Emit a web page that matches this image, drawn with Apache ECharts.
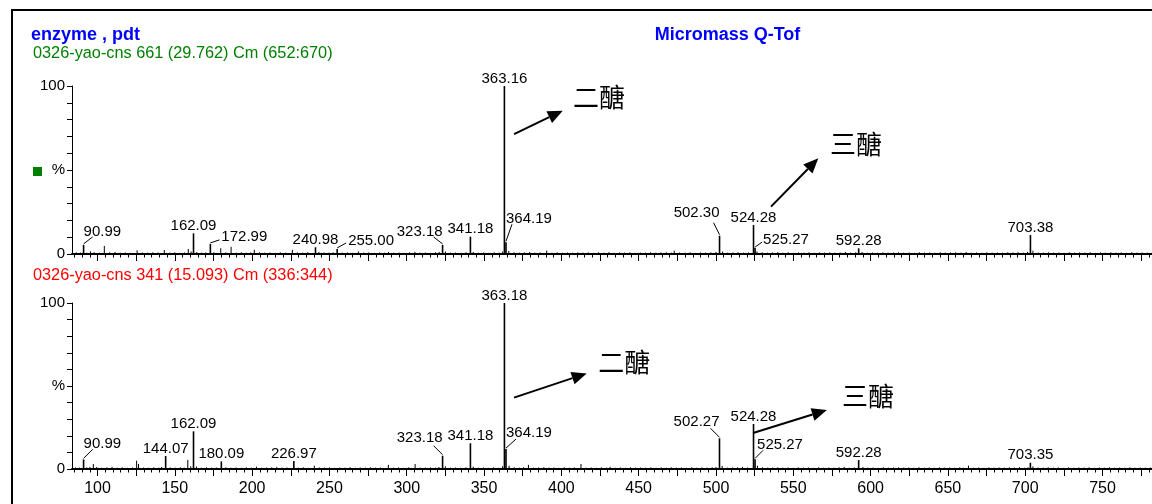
<!DOCTYPE html>
<html><head><meta charset="utf-8">
<script src="https://cdn.jsdelivr.net/npm/echarts@6/dist/echarts.min.js"></script>
<style>html,body{margin:0;padding:0;background:#fff}#c{width:1152px;height:504px}</style>
</head><body><div id="c"></div>
<script>
// ---------------- DATA ----------------
const titleLeft = 'enzyme , pdt';
const titleRight = 'Micromass Q-Tof';
const topCaption = '0326-yao-cns 661 (29.762) Cm (652:670)';
const bottomCaption = '0326-yao-cns 341 (15.093) Cm (336:344)';

// labelled peaks (label text = m/z), relative intensity in %
const topLabels = ['90.99','162.09','172.99','240.98','255.00','323.18','341.18','363.16','364.19','502.30','524.28','525.27','592.28','703.38'];
const topLabelPct = [5.4, 12.3, 6.0, 4.0, 3.0, 5.4, 10.3, 100, 7.0, 10.9, 17.3, 3.5, 3.4, 11.3];

const bottomLabels = ['90.99','144.07','162.09','180.09','226.97','323.18','341.18','363.18','364.19','502.27','524.28','525.27','592.28','703.35'];
const bottomLabelPct = [5.8, 7.8, 22.7, 4.6, 4.8, 8.0, 15.5, 100, 12.0, 18.5, 27.1, 5.8, 5.4, 3.8];

// unlabelled small peaks / baseline noise [m/z, %]
const topNoise = [[86.2,1.0],[89.0,0.8],[93.1,0.7],[95.4,1.6],[97.8,1.0],[101.2,0.8],[104.4,4.8],[107.9,1.0],[111.3,1.2],[114.6,0.8],[118.0,0.9],[121.2,0.7],[125.6,2.2],[129.0,0.9],[132.4,0.8],[135.8,1.0],[139.1,0.9],[143.2,2.4],[146.7,0.8],[150.0,1.0],[153.3,0.7],[156.2,0.9],[158.7,3.0],[160.5,1.5],[164.2,1.2],[167.3,0.8],[170.0,0.9],[175.3,1.0],[179.7,3.4],[183.0,1.0],[186.4,4.3],[189.6,0.8],[193.0,1.0],[196.3,0.7],[199.0,0.9],[201.4,2.5],[204.8,1.0],[208.2,0.8],[211.5,0.9],[215.0,0.7],[218.2,1.0],[221.6,0.8],[226.0,2.5],[229.3,0.9],[232.7,0.8],[236.0,1.0],[243.2,1.2],[246.4,0.9],[249.8,0.8],[252.4,1.0],[258.3,0.8],[261.6,0.9],[265.0,0.7],[268.7,1.5],[272.2,0.8],[275.5,1.0],[279.0,0.7],[282.4,0.9],[285.8,0.8],[288.2,1.2],[291.5,0.8],[295.0,0.9],[298.4,0.7],[301.8,1.0],[305.3,1.3],[308.6,0.8],[312.0,0.9],[315.3,0.7],[318.6,1.0],[321.0,1.2],[325.0,1.5],[328.3,0.8],[331.6,0.9],[335.0,0.7],[338.3,1.0],[343.0,1.2],[346.4,0.8],[349.8,0.9],[353.1,0.7],[356.5,1.0],[359.8,0.8],[362.0,1.5],[366.0,1.8],[369.4,1.0],[372.8,0.8],[376.1,0.9],[379.5,1.2],[382.8,0.8],[386.2,0.9],[390.5,2.0],[393.9,0.8],[397.2,1.0],[400.6,0.7],[404.0,0.9],[407.3,0.8],[410.7,1.0],[414.0,0.8],[417.4,0.9],[420.8,0.7],[424.1,1.0],[427.5,0.8],[430.8,1.1],[434.2,0.7],[437.6,0.9],[440.9,0.8],[444.3,1.0],[447.6,0.7],[451.0,0.9],[454.4,0.8],[457.7,1.0],[461.1,0.8],[464.4,0.9],[467.8,1.1],[471.2,0.8],[473.0,2.0],[476.4,0.9],[479.9,0.8],[483.2,1.0],[486.6,0.7],[490.0,0.9],[493.3,0.8],[496.7,1.0],[500.0,1.2],[504.3,1.5],[507.6,0.8],[511.0,0.9],[514.3,1.0],[517.7,0.8],[521.0,0.9],[526.5,1.5],[529.8,1.0],[533.2,0.8],[536.6,0.9],[540.0,1.1],[543.3,0.8],[546.7,1.0],[550.0,0.7],[553.4,0.9],[556.8,0.8],[560.1,1.0],[563.5,0.7],[566.9,0.9],[570.2,0.8],[573.6,1.0],[577.0,0.8],[580.3,0.9],[583.7,1.2],[587.0,0.8],[590.4,1.0],[594.5,1.2],[597.8,0.8],[601.2,0.9],[604.6,0.7],[608.0,1.0],[611.3,0.8],[614.7,0.9],[618.0,1.0],[621.4,0.8],[624.8,0.9],[628.2,0.7],[631.5,1.0],[634.9,0.8],[638.2,0.9],[641.6,0.7],[645.0,1.0],[648.3,0.8],[651.7,0.9],[655.0,1.0],[658.4,0.8],[661.8,1.2],[665.1,0.8],[668.5,0.9],[671.9,0.7],[675.2,1.0],[678.6,0.8],[682.0,0.9],[685.3,0.8],[688.7,1.0],[692.0,0.9],[695.4,1.1],[698.8,0.8],[701.5,1.2],[705.0,2.0],[708.3,0.9],[711.7,0.8],[715.0,1.0],[718.4,0.8],[721.8,0.9],[725.1,0.7],[728.5,1.0],[731.9,0.8],[735.2,0.9],[738.6,0.8],[742.0,1.0],[745.3,0.7],[748.7,0.9],[752.0,0.8],[755.4,1.0],[758.8,0.8],[762.1,0.9],[765.5,0.7],[768.9,1.0],[772.2,0.8],[775.6,0.9],[779.0,0.8]];

const bottomNoise = [[85.8,0.9],[88.3,0.8],[93.0,1.0],[95.1,1.2],[97.3,3.0],[99.5,1.2],[102.8,0.8],[106.1,1.0],[109.4,1.3],[112.7,0.8],[116.0,1.0],[119.3,0.7],[122.6,0.9],[125.3,5.0],[126.5,3.0],[129.8,0.9],[133.1,0.8],[136.4,1.0],[139.7,0.8],[141.5,1.2],[147.0,0.9],[150.3,0.8],[153.6,1.0],[156.0,0.8],[158.4,5.5],[160.3,1.6],[164.0,1.5],[167.2,0.8],[170.5,1.0],[173.8,0.8],[177.1,0.9],[183.0,1.0],[186.3,0.8],[189.6,0.9],[192.9,0.7],[196.2,1.0],[199.5,0.8],[202.8,1.4],[206.1,0.8],[209.4,0.9],[212.7,1.0],[216.0,1.2],[219.3,0.8],[222.6,0.9],[229.8,0.8],[233.1,1.0],[236.4,0.7],[240.2,2.0],[243.5,0.9],[246.8,0.8],[250.1,1.0],[253.4,0.7],[256.7,0.9],[260.0,0.8],[263.3,1.0],[266.6,0.7],[269.9,0.9],[273.2,0.8],[276.5,1.0],[279.8,0.8],[283.1,0.9],[288.1,2.5],[291.4,0.8],[294.7,0.9],[298.0,0.7],[301.3,1.0],[305.4,3.0],[308.7,0.8],[312.0,0.9],[315.3,1.0],[318.6,0.8],[320.8,1.2],[325.0,1.6],[328.3,0.8],[331.6,0.9],[334.9,0.7],[338.2,1.0],[343.0,1.4],[346.3,0.8],[349.6,0.9],[352.9,0.7],[356.2,1.0],[359.5,0.8],[362.0,1.6],[366.2,2.0],[369.5,1.0],[372.8,0.8],[375.5,1.0],[378.7,2.5],[382.0,0.8],[385.3,0.9],[388.6,1.0],[391.9,0.8],[395.2,0.9],[398.5,0.7],[401.8,1.0],[405.1,0.8],[408.4,0.9],[412.7,3.0],[416.0,0.8],[419.3,0.9],[422.6,0.7],[425.9,1.0],[429.2,0.8],[431.5,1.3],[434.8,0.8],[438.1,0.9],[441.4,0.7],[444.7,1.0],[448.0,0.8],[451.3,0.9],[454.6,0.8],[457.9,1.0],[461.2,0.7],[464.5,0.9],[467.8,0.8],[471.1,1.0],[474.4,0.8],[477.7,0.9],[481.0,0.7],[484.3,1.0],[487.6,0.8],[490.9,0.9],[494.2,0.8],[497.5,1.0],[500.0,1.2],[504.0,1.8],[507.3,0.8],[510.6,0.9],[513.9,1.0],[517.2,1.3],[520.5,0.9],[526.8,2.0],[530.1,1.0],[533.4,0.8],[536.7,0.9],[540.0,1.0],[543.3,0.8],[546.6,0.9],[549.9,0.7],[553.2,1.0],[556.5,0.8],[559.8,0.9],[563.1,0.7],[566.4,1.0],[569.7,0.8],[573.0,0.9],[576.3,0.8],[579.6,1.0],[582.9,1.2],[586.2,0.8],[589.5,0.9],[595.0,1.2],[598.3,0.8],[601.6,0.9],[604.9,0.7],[608.2,1.0],[611.5,0.8],[614.8,0.9],[618.1,1.0],[621.4,0.8],[624.7,0.9],[628.0,0.7],[631.3,1.0],[634.6,0.8],[637.9,0.9],[641.2,0.7],[644.5,1.0],[647.8,0.8],[651.1,0.9],[654.4,0.8],[657.7,1.0],[660.0,0.8],[663.3,2.0],[666.6,0.8],[669.9,0.9],[673.2,0.7],[676.5,1.0],[679.8,0.8],[683.1,0.9],[686.4,0.8],[689.7,1.0],[693.0,0.9],[696.3,1.1],[699.6,0.8],[701.8,1.0],[705.0,1.6],[708.3,0.9],[711.6,0.8],[714.9,1.0],[718.2,0.8],[721.5,0.9],[724.8,0.7],[728.1,1.0],[731.4,0.8],[734.7,0.9],[738.0,0.8],[741.3,1.0],[744.6,0.7],[747.9,0.9],[751.2,0.8],[754.5,1.0],[757.8,0.8],[761.1,0.9],[764.4,0.7],[767.7,1.0],[771.0,0.8],[774.3,0.9],[777.6,0.8],[780.9,0.9]];

// annotations: arrow start [m/z,%], arrow tip [m/z,%], text centre [m/z,%], text index
const annTexts = ['二醣', '三醣'];
const topAnnotations = [[369.4, 71.4, 400.9, 85.3, 424.4, 93.5, 0], [535.6, 28.2, 566.2, 57.0, 590.6, 65.5, 1]];
const bottomAnnotations = [[369.4, 43.0, 416.4, 57.6, 440.6, 64.5, 0], [524.0, 21.7, 571.7, 35.5, 598.3, 44.0, 1]];

// axis ticks
const xMajorTicks = [100,125,150,175,200,225,250,275,300,325,350,375,400,425,450,475,500,525,550,575,600,625,650,675,700,725,750,775];
const xTickLabels = [100,150,200,250,300,350,400,450,500,550,600,650,700,750];
const yTickLabels = {0: '0', 50: '%', 100: '100'};

// ---------------- LAYOUT / STYLE ----------------
const X_MIN = 83.5, X_MAX = 782;
const FONT = '"Liberation Sans", Arial, sans-serif';
const LBL_FS = 15;
// label placement: ['a'] above peak; ['r'|'l', leaderDx, leaderH, textDx, textDy]
const topLayout = {
  '90.99': ['r', 9, 8, 0, 0], '172.99': ['r', 9, 4, 11, 2], '255.00': ['r', 9, 6, 11, 3],
  '323.18': ['l', -9, 8, 0, 0], '364.19': ['r', 6, 18, 0, 0], '502.30': ['l', -6, 13, 0, -4],
  '525.27': ['r', 7, 6, 8, 3]
};
const bottomLayout = {
  '90.99': ['r', 9, 10, 0, 0], '323.18': ['l', -9, 10, 0, -2], '364.19': ['r', 10, 10, 0, -1],
  '502.27': ['l', -9, 10, 0, -1], '525.27': ['r', 8, 9, 2, 0]
};

const minorTicks = [];
for (let v = 85; v <= 780; v += 5) if (v % 25 !== 0) minorTicks.push(v);

function peakRender(width) {
  return function (params, api) {
    const x = api.value(0), y = api.value(1);
    const p0 = api.coord([x, 0]), p1 = api.coord([x, y]);
    return { type: 'line', shape: { x1: p0[0], y1: p0[1], x2: p1[0], y2: p1[1] },
      style: { stroke: '#000', lineWidth: width } };
  };
}
function labelRender(texts, layout) {
  return function (params, api) {
    const txt = texts[api.value(2)];
    const p = api.coord([api.value(0), api.value(1)]);
    const L = layout[txt] || ['a'];
    const capHalf = 0.358 * LBL_FS;
    const font = LBL_FS + 'px ' + FONT;
    const ch = [];
    if (L[0] === 'a') {
      ch.push({ type: 'text', style: { text: txt, x: p[0], y: p[1] - 2 - capHalf, align: 'center', verticalAlign: 'middle', font: font, fill: '#000' } });
    } else {
      const ex = p[0] + L[1], ey = p[1] - L[2];
      ch.push({ type: 'line', shape: { x1: p[0], y1: p[1] - 1, x2: ex, y2: ey }, style: { stroke: '#000', lineWidth: 1 } });
      const base = ey + (L[4] || 0);
      ch.push({ type: 'text', style: { text: txt, x: L[0] === 'r' ? p[0] + L[3] : p[0] - L[3], y: base - capHalf,
        align: L[0] === 'r' ? 'left' : 'right', verticalAlign: 'middle', font: font, fill: '#000' } });
    }
    return { type: 'group', children: ch };
  };
}
function annRender(params, api) {
  const p0 = api.coord([api.value(0), api.value(1)]);
  const p1 = api.coord([api.value(2), api.value(3)]);
  const pt = api.coord([api.value(4), api.value(5)]);
  const ang = Math.atan2(p1[1] - p0[1], p1[0] - p0[0]);
  const len = 15, hw = 6.5;
  const bx = p1[0] - len * Math.cos(ang), by = p1[1] - len * Math.sin(ang);
  const nx = -Math.sin(ang), ny = Math.cos(ang);
  return { type: 'group', children: [
    { type: 'line', shape: { x1: p0[0], y1: p0[1], x2: bx, y2: by }, style: { stroke: '#000', lineWidth: 2 } },
    { type: 'polygon', shape: { points: [[p1[0], p1[1]], [bx + nx * hw, by + ny * hw], [bx - nx * hw, by - ny * hw]] }, style: { fill: '#000' } },
    { type: 'text', style: { text: annTexts[api.value(6)], x: pt[0], y: pt[1], align: 'center', verticalAlign: 'middle',
      font: '26px "Noto Sans CJK TC", "Noto Sans CJK SC", sans-serif', fill: '#000' } }
  ] };
}

function xAxisPair(grid, showLabels) {
  return [{
    gridIndex: grid, type: 'value', min: X_MIN, max: X_MAX,
    axisLine: { show: true, lineStyle: { color: '#000', width: 2 } },
    axisTick: { show: true, customValues: xMajorTicks, length: 7, lineStyle: { color: '#000', width: 1 } },
    axisLabel: showLabels ? { show: true, customValues: xTickLabels, margin: 12, color: '#000', fontSize: 16, fontFamily: FONT } : { show: false },
    splitLine: { show: false }
  }, {
    gridIndex: grid, type: 'value', min: X_MIN, max: X_MAX, position: 'bottom',
    axisLine: { show: false },
    axisTick: { show: true, customValues: minorTicks, length: 3.5, lineStyle: { color: '#000', width: 1 } },
    axisLabel: { show: false }, splitLine: { show: false }
  }];
}
function yAxis(grid) {
  return {
    gridIndex: grid, type: 'value', min: 0, max: 100, interval: 10,
    axisLine: { show: true, lineStyle: { color: '#000', width: 1 } },
    axisTick: { show: true, length: 5, lineStyle: { color: '#000' } },
    axisLabel: { show: true, margin: 7, color: '#000', fontSize: 15, fontFamily: FONT, padding: [5, 0, 0, 0],
      formatter: v => (yTickLabels[v] !== undefined ? yTickLabels[v] : '') },
    splitLine: { show: false }
  };
}

const chart = echarts.init(document.getElementById('c'), null, { renderer: 'canvas' });
chart.setOption({
  animation: false,
  backgroundColor: '#fff',
  grid: [{ left: 72, top: 86, height: 168, right: 0 }, { left: 72, top: 303, height: 166, right: 0 }],
  xAxis: xAxisPair(0, false).concat(xAxisPair(1, true)),
  yAxis: [yAxis(0), yAxis(1)],
  graphic: [
    { type: 'rect', shape: { x: 12, y: 10, width: 1200, height: 600 }, style: { fill: 'none', stroke: '#000', lineWidth: 2 }, silent: true },
    { type: 'text', x: 31, y: 35.5, style: { text: titleLeft, font: 'bold 18px ' + FONT, fill: '#0000ff', verticalAlign: 'middle' } },
    { type: 'text', x: 727.5, y: 35.5, style: { text: titleRight, font: 'bold 18px ' + FONT, fill: '#0000ff', align: 'center', verticalAlign: 'middle' } },
    { type: 'text', x: 33, y: 54, style: { text: topCaption, font: '16.3px ' + FONT, fill: '#008000', verticalAlign: 'middle' } },
    { type: 'text', x: 33, y: 275.5, style: { text: bottomCaption, font: '16.3px ' + FONT, fill: '#ff0000', verticalAlign: 'middle' } },
    { type: 'rect', shape: { x: 33, y: 167, width: 9, height: 9 }, style: { fill: '#008000' } }
  ],
  series: [
    { type: 'custom', xAxisIndex: 0, yAxisIndex: 0, silent: true, renderItem: peakRender(1), data: topNoise },
    { type: 'custom', xAxisIndex: 0, yAxisIndex: 0, silent: true, renderItem: peakRender(1.6), data: topLabels.map((t, i) => [parseFloat(t), topLabelPct[i]]) },
    { type: 'custom', xAxisIndex: 0, yAxisIndex: 0, silent: true, renderItem: labelRender(topLabels, topLayout), data: topLabels.map((t, i) => [parseFloat(t), topLabelPct[i], i]) },
    { type: 'custom', xAxisIndex: 0, yAxisIndex: 0, silent: true, renderItem: annRender, data: topAnnotations },
    { type: 'custom', xAxisIndex: 2, yAxisIndex: 1, silent: true, renderItem: peakRender(1), data: bottomNoise },
    { type: 'custom', xAxisIndex: 2, yAxisIndex: 1, silent: true, renderItem: peakRender(1.6), data: bottomLabels.map((t, i) => [parseFloat(t), bottomLabelPct[i]]) },
    { type: 'custom', xAxisIndex: 2, yAxisIndex: 1, silent: true, renderItem: labelRender(bottomLabels, bottomLayout), data: bottomLabels.map((t, i) => [parseFloat(t), bottomLabelPct[i], i]) },
    { type: 'custom', xAxisIndex: 2, yAxisIndex: 1, silent: true, renderItem: annRender, data: bottomAnnotations }
  ]
});
</script></body></html>
